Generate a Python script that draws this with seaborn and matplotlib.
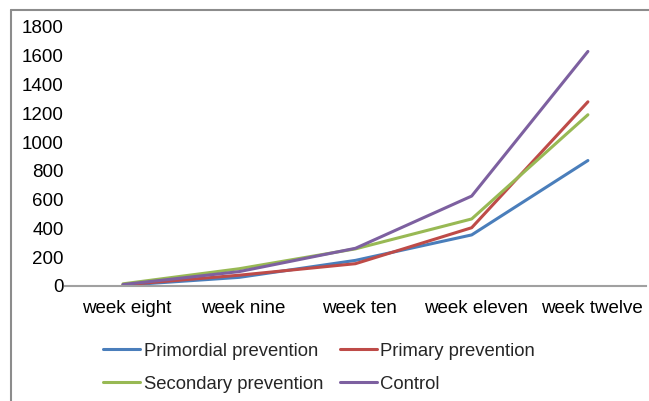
import matplotlib
matplotlib.use("Agg")
import matplotlib.pyplot as plt
import matplotlib.transforms as mtransforms
from matplotlib.lines import Line2D
import seaborn as sns
import pandas as pd

weeks = ["week eight", "week nine", "week ten", "week eleven", "week twelve"]
primordial = [5, 60, 178, 355, 872]
primary = [8, 75, 155, 405, 1280]
secondary = [15, 120, 258, 466, 1190]
control = [10, 100, 262, 625, 1630]

series_names = ["Primordial prevention", "Primary prevention",
                "Secondary prevention", "Control"]
colors = ["#4A7EBB", "#BE4B48", "#98B954", "#7D60A0"]

df = pd.DataFrame({
    "week": weeks * 4,
    "value": primordial + primary + secondary + control,
    "group": [n for n in series_names for _ in weeks],
})

sns.set_theme(style="white")
plt.rcParams["font.family"] = ["Liberation Sans", "DejaVu Sans"]

fig = plt.figure(figsize=(6.49, 4.01), dpi=100)
ax = fig.add_axes([0.1, 0.2868, 0.8954, 0.6459])

sns.lineplot(data=df, x="week", y="value", hue="group", hue_order=series_names,
             palette=colors, linewidth=2.2, sort=False, legend=False, ax=ax)

ax.set_xlim(-0.5, 4.5)
ax.set_ylim(0, 1800)
ax.set_yticks(range(0, 1801, 200))
ax.set_xlabel("")
ax.set_ylabel("")
for side in ["left", "right", "top"]:
    ax.spines[side].set_visible(False)
ax.spines["bottom"].set_color("#A0A0A0")
ax.spines["bottom"].set_linewidth(1.5)
ax.tick_params(axis="both", length=0, labelsize=13.5, colors="black")
ax.tick_params(axis="x", pad=10)
ax.tick_params(axis="y", pad=1)

# nudge category labels slightly to the right
shift = mtransforms.ScaledTranslation(4 / 100, 0, fig.dpi_scale_trans)
for lbl in ax.get_xticklabels():
    lbl.set_transform(lbl.get_transform() + shift)

# legend filled row by row: two entries per row
order = [0, 2, 1, 3]
handles = [Line2D([], [], color=colors[i], linewidth=2.2) for i in order]
labels = [series_names[i] for i in order]
fig.legend(handles, labels, loc="upper left", bbox_to_anchor=(0.159, 0.145),
           ncol=2, frameon=False, fontsize=13.3, handlelength=2.0, handletextpad=0.2,
           columnspacing=0.9, labelspacing=0.85, borderaxespad=0, borderpad=0)

# outer chart frame
fig.add_artist(Line2D([0.017, 0.017], [0.0, 0.975], transform=fig.transFigure,
                      color="#8C8C8C", linewidth=1.5))
fig.add_artist(Line2D([0.017, 1.0], [0.975, 0.975], transform=fig.transFigure,
                      color="#8C8C8C", linewidth=1.5))

fig.savefig("out.png", dpi=100)
